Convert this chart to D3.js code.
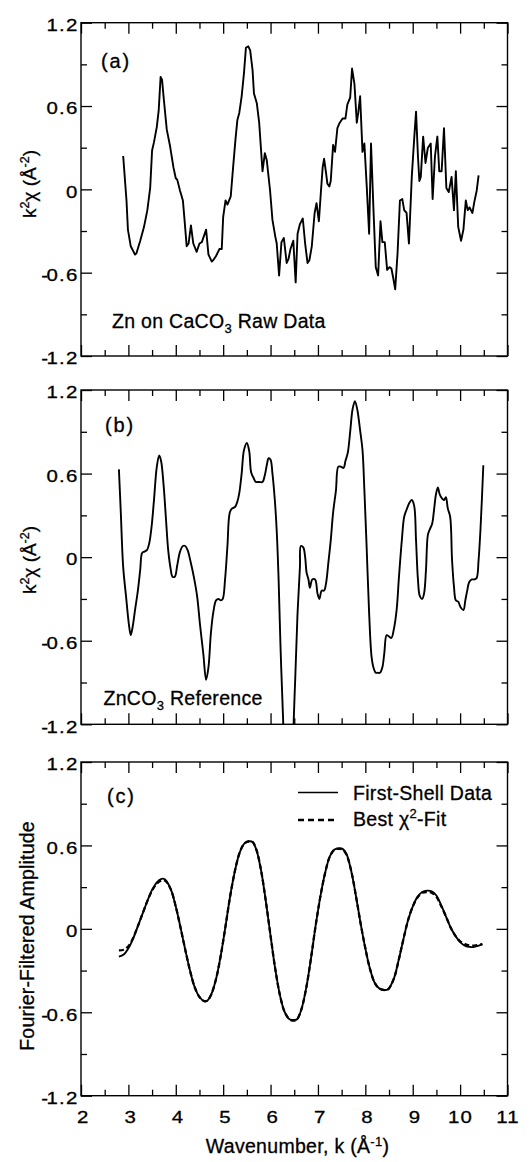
<!DOCTYPE html>
<html>
<head>
<meta charset="utf-8">
<script src="https://cdn.jsdelivr.net/npm/d3@7"></script>
<style>
body { margin: 0; background: #fff; }
text { font-family: "Liberation Sans", Arial, Helvetica, sans-serif; fill: #000; stroke: #000; stroke-width: 0.3px; }
</style>
</head>
<body>
<svg id="chart" width="529" height="1162"></svg>
<script>
// tick values
const xMajor = [2, 3, 4, 5, 6, 7, 8, 9, 10, 11]
const xMinor = [2.5, 3.5, 4.5, 5.5, 6.5, 7.5, 8.5, 9.5, 10.5]
const yMajor = [-1.2, -0.6, 0, 0.6, 1.2]
const yMinor = [-0.9, -0.3, 0.3, 0.9]

// (a) Zn on CaCO3 raw data, [k, k^2 chi]
const rawData = [[2.89,0.24],[2.96,-0.08],[2.99,-0.29],[3.05,-0.41],[3.14,-0.47],[3.17,-0.46],[3.25,-0.37],[3.33,-0.27],[3.40,-0.15],[3.46,0.01],[3.50,0.28],[3.54,0.34],[3.60,0.45],[3.64,0.57],[3.68,0.81],[3.71,0.79],[3.75,0.64],[3.81,0.43],[3.88,0.31],[3.95,0.16],[4.00,0.08],[4.03,0.07],[4.09,-0.01],[4.15,-0.08],[4.18,-0.20],[4.23,-0.41],[4.27,-0.39],[4.32,-0.26],[4.37,-0.39],[4.44,-0.45],[4.50,-0.39],[4.55,-0.38],[4.64,-0.29],[4.69,-0.47],[4.76,-0.52],[4.79,-0.51],[4.85,-0.48],[4.92,-0.43],[4.97,-0.43],[5.00,-0.20],[5.05,-0.08],[5.09,-0.11],[5.16,-0.05],[5.21,0.16],[5.26,0.36],[5.30,0.50],[5.34,0.55],[5.39,0.67],[5.44,0.84],[5.48,1.02],[5.53,1.03],[5.57,1.00],[5.62,0.86],[5.65,0.69],[5.71,0.62],[5.76,0.48],[5.79,0.33],[5.83,0.13],[5.88,0.26],[5.92,0.21],[5.99,-0.01],[6.04,-0.22],[6.10,-0.34],[6.13,-0.39],[6.18,-0.62],[6.23,-0.38],[6.28,-0.35],[6.34,-0.53],[6.38,-0.50],[6.42,-0.43],[6.48,-0.37],[6.53,-0.67],[6.57,-0.32],[6.62,-0.25],[6.68,-0.21],[6.73,-0.39],[6.78,-0.53],[6.82,-0.51],[6.87,-0.41],[6.93,-0.17],[6.97,-0.10],[7.02,-0.23],[7.06,-0.03],[7.10,0.16],[7.13,0.22],[7.17,0.12],[7.20,0.04],[7.24,0.02],[7.27,0.06],[7.32,0.32],[7.36,0.27],[7.41,0.44],[7.46,0.48],[7.52,0.51],[7.58,0.51],[7.62,0.61],[7.68,0.66],[7.72,0.87],[7.77,0.76],[7.82,0.48],[7.85,0.55],[7.89,0.67],[7.94,0.27],[7.98,0.33],[8.03,0.02],[8.08,-0.32],[8.12,0.33],[8.17,-0.13],[8.22,-0.56],[8.27,-0.62],[8.32,-0.23],[8.36,-0.38],[8.41,-0.38],[8.46,-0.58],[8.51,-0.56],[8.55,-0.57],[8.59,-0.64],[8.63,-0.72],[8.68,-0.46],[8.73,-0.08],[8.78,-0.07],[8.82,-0.15],[8.87,-0.17],[8.92,-0.39],[8.98,0.09],[9.03,0.36],[9.07,0.56],[9.11,0.24],[9.14,0.06],[9.17,0.09],[9.22,0.38],[9.27,0.19],[9.32,0.30],[9.38,0.33],[9.42,-0.07],[9.47,0.24],[9.52,0.38],[9.56,0.13],[9.61,0.13],[9.66,0.44],[9.71,0.01],[9.76,-0.02],[9.82,0.09],[9.87,-0.15],[9.91,0.13],[9.96,-0.27],[10.02,-0.37],[10.07,-0.29],[10.12,-0.08],[10.16,-0.15],[10.20,-0.13],[10.26,-0.17],[10.30,-0.09],[10.35,-0.01],[10.39,0.10]]

// (b) ZnCO3 reference
const refData = [[2.80,0.63],[2.84,0.32],[2.89,-0.07],[2.95,-0.28],[3.01,-0.48],[3.05,-0.56],[3.09,-0.50],[3.14,-0.38],[3.20,-0.24],[3.25,-0.09],[3.29,0.03],[3.34,0.04],[3.39,0.05],[3.44,0.10],[3.49,0.22],[3.54,0.41],[3.60,0.65],[3.65,0.73],[3.69,0.69],[3.74,0.53],[3.79,0.29],[3.84,0.05],[3.89,-0.08],[3.93,-0.14],[3.98,-0.14],[4.03,-0.06],[4.09,0.04],[4.15,0.08],[4.20,0.08],[4.25,0.05],[4.31,-0.03],[4.38,-0.14],[4.45,-0.28],[4.51,-0.48],[4.58,-0.69],[4.64,-0.88],[4.69,-0.79],[4.74,-0.55],[4.79,-0.40],[4.85,-0.31],[4.90,-0.30],[4.95,-0.31],[4.99,-0.30],[5.04,-0.16],[5.09,0.08],[5.14,0.32],[5.19,0.35],[5.25,0.36],[5.30,0.40],[5.34,0.46],[5.39,0.60],[5.44,0.77],[5.50,0.82],[5.55,0.76],[5.59,0.61],[5.64,0.57],[5.69,0.54],[5.76,0.54],[5.83,0.54],[5.88,0.59],[5.92,0.66],[5.96,0.71],[6.00,0.70],[6.04,0.60],[6.09,0.41],[6.13,0.19],[6.17,-0.16],[6.21,-0.64],[6.26,-1.12],[6.37,-2.00],[6.52,-0.88],[6.57,-0.40],[6.62,-0.07],[6.64,0.08],[6.69,0.07],[6.73,0.00],[6.76,-0.11],[6.80,-0.16],[6.83,-0.22],[6.88,-0.16],[6.94,-0.16],[6.99,-0.26],[7.03,-0.30],[7.08,-0.24],[7.13,-0.24],[7.17,-0.19],[7.22,-0.04],[7.27,0.12],[7.32,0.32],[7.38,0.48],[7.43,0.65],[7.48,0.65],[7.54,0.64],[7.58,0.69],[7.63,0.75],[7.68,0.90],[7.73,1.06],[7.78,1.12],[7.83,1.06],[7.89,0.91],[7.94,0.77],[7.98,0.48],[8.03,0.05],[8.08,-0.40],[8.13,-0.71],[8.17,-0.79],[8.22,-0.83],[8.26,-0.83],[8.31,-0.83],[8.36,-0.79],[8.40,-0.69],[8.45,-0.56],[8.50,-0.57],[8.55,-0.58],[8.60,-0.52],[8.66,-0.38],[8.71,-0.14],[8.77,0.12],[8.82,0.29],[8.87,0.34],[8.93,0.39],[8.98,0.41],[9.03,0.37],[9.07,0.12],[9.11,-0.16],[9.15,-0.28],[9.20,-0.30],[9.24,-0.26],[9.28,-0.09],[9.32,0.16],[9.36,0.20],[9.41,0.24],[9.45,0.34],[9.49,0.45],[9.53,0.50],[9.57,0.45],[9.62,0.42],[9.66,0.41],[9.70,0.43],[9.74,0.35],[9.79,0.29],[9.83,-0.02],[9.87,-0.21],[9.91,-0.31],[9.96,-0.32],[10.01,-0.36],[10.07,-0.38],[10.11,-0.31],[10.15,-0.24],[10.19,-0.18],[10.25,-0.16],[10.31,-0.16],[10.35,-0.15],[10.39,-0.02],[10.43,0.20],[10.49,0.66]]

// (c) Fourier-filtered first shell and fit
const kFilt = [2.80,2.90,3.00,3.10,3.20,3.30,3.40,3.50,3.60,3.70,3.75,3.80,3.90,4.00,4.10,4.20,4.30,4.40,4.50,4.60,4.67,4.75,4.85,4.95,5.05,5.15,5.25,5.35,5.45,5.55,5.62,5.70,5.80,5.90,6.00,6.10,6.20,6.30,6.40,6.50,6.56,6.65,6.75,6.85,6.95,7.05,7.15,7.25,7.35,7.45,7.52,7.60,7.70,7.80,7.90,8.00,8.10,8.20,8.30,8.40,8.48,8.60,8.70,8.80,8.90,9.00,9.10,9.20,9.30,9.40,9.50,9.60,9.70,9.80,9.90,10.00,10.10,10.20,10.30,10.40,10.47]
const shellAmp = [-0.20,-0.185,-0.14,-0.07,0.02,0.11,0.20,0.28,0.335,0.36,0.36,0.345,0.28,0.16,0.01,-0.15,-0.30,-0.42,-0.49,-0.52,-0.515,-0.47,-0.36,-0.19,0.02,0.24,0.42,0.55,0.615,0.63,0.625,0.57,0.42,0.20,-0.05,-0.29,-0.48,-0.60,-0.65,-0.655,-0.65,-0.58,-0.43,-0.22,0.02,0.23,0.40,0.52,0.57,0.58,0.575,0.54,0.42,0.24,0.04,-0.14,-0.29,-0.39,-0.43,-0.44,-0.435,-0.36,-0.23,-0.08,0.06,0.16,0.23,0.265,0.275,0.27,0.24,0.17,0.09,0.01,-0.05,-0.095,-0.12,-0.13,-0.13,-0.12,-0.11]
const fitAmp = [-0.155,-0.15,-0.125,-0.065,0.02,0.11,0.20,0.275,0.325,0.35,0.35,0.34,0.28,0.16,0.01,-0.15,-0.30,-0.42,-0.49,-0.52,-0.515,-0.47,-0.36,-0.19,0.02,0.24,0.42,0.55,0.615,0.63,0.625,0.57,0.42,0.20,-0.05,-0.29,-0.48,-0.60,-0.65,-0.66,-0.65,-0.58,-0.43,-0.22,0.02,0.23,0.40,0.52,0.57,0.575,0.57,0.535,0.42,0.24,0.04,-0.14,-0.29,-0.39,-0.43,-0.44,-0.435,-0.36,-0.23,-0.08,0.06,0.16,0.225,0.26,0.265,0.26,0.23,0.165,0.09,0.01,-0.05,-0.09,-0.11,-0.12,-0.12,-0.115,-0.11]

const svg = d3.select('#chart')
svg.append('rect').attr('width', 529).attr('height', 1162).attr('fill', '#fff')

const x = d3.scaleLinear().domain([2, 11]).range([81, 507.5])
const x0 = x.range()[0], x1 = x.range()[1]

const panels = [
    { top: 22.7, bottom: 356, tag: '(a)', tagX: 101, tagY: 68 },
    { top: 390, bottom: 724.3, tag: '(b)', tagX: 105, tagY: 432 },
    { top: 762, bottom: 1095.7, tag: '(c)', tagX: 107, tagY: 803 }
]

panels.forEach((p, i) => {
    p.y = d3.scaleLinear().domain([-1.2, 1.2]).range([p.bottom, p.top])
    const g = svg.append('g')
    p.g = g

    const clipId = 'clip' + i
    g.append('clipPath').attr('id', clipId)
        .append('rect').attr('x', x0).attr('y', p.top)
        .attr('width', x1 - x0).attr('height', p.bottom - p.top)
    p.clip = `url(#${clipId})`

    // ticks on all four sides, pointing inward
    const axes = [
        [d3.axisLeft, `translate(${x0},0)`, p.y, yMajor, yMinor],
        [d3.axisRight, `translate(${x1},0)`, p.y, yMajor, yMinor],
        [d3.axisTop, `translate(0,${p.top})`, x, xMajor, xMinor],
        [d3.axisBottom, `translate(0,${p.bottom})`, x, xMajor, xMinor]
    ]
    axes.forEach(([ax, tr, sc, major, minor]) => {
        [[major, 11], [minor, 6]].forEach(([vals, len]) => {
            g.append('g').attr('transform', tr)
                .call(ax(sc).tickValues(vals).tickSize(-len).tickFormat(''))
                .call(a => a.select('.domain').remove())
                .selectAll('line').attr('stroke', '#000').attr('stroke-width', 1.3)
        })
    })

    g.append('rect')
        .attr('x', x0).attr('y', p.top)
        .attr('width', x1 - x0).attr('height', p.bottom - p.top)
        .attr('fill', 'none').attr('stroke', '#000').attr('stroke-width', 1.4)

    // y tick labels: hyphen set tight, digits a little spread
    const lab = g.selectAll('.ylab').data(yMajor).join('text')
        .attr('class', 'ylab')
        .attr('transform', d => `translate(${x0 - 2.5},${p.y(d) + 8.3}) scale(1.2,1)`)
        .attr('text-anchor', 'end')
        .style('font-size', '17px')
    lab.filter(d => d < 0).append('tspan').style('letter-spacing', '-1.2px').text('-')
    lab.append('tspan').style('letter-spacing', '1px')
        .text(d => d === 0 ? '0' : Math.abs(d).toFixed(1))

    g.append('text')
        .attr('x', p.tagX).attr('y', p.tagY)
        .style('font-size', '20px').style('letter-spacing', '1.8px')
        .text(p.tag)
})

// x tick labels on bottom panel only
const pc = panels[2]
pc.g.selectAll('.xlab').data(xMajor).join('text')
    .attr('class', 'xlab')
    .attr('transform', d => `translate(${x(d) + (d >= 10 ? 0.5 : 2.3)},${pc.bottom + 27.6}) scale(1.2,1)`)
    .attr('text-anchor', 'middle')
    .style('font-size', '17px')
    .style('letter-spacing', '1px')
    .text(d => d)

const line = d3.line().x(d => x(d[0]))

// (a)
const pa = panels[0]
pa.g.append('path').datum(rawData)
    .attr('clip-path', pa.clip)
    .attr('d', line.y(d => pa.y(d[1])).curve(d3.curveLinear))
    .attr('fill', 'none').attr('stroke', '#000').attr('stroke-width', 1.9)
    .attr('stroke-linejoin', 'round')

// (b)
const pb = panels[1]
pb.g.append('path').datum(refData)
    .attr('clip-path', pb.clip)
    .attr('d', line.y(d => pb.y(d[1])).curve(d3.curveCatmullRom.alpha(0.5)))
    .attr('fill', 'none').attr('stroke', '#000').attr('stroke-width', 1.9)
    .attr('stroke-linejoin', 'round')

// (c)
const shell = kFilt.map((k, i) => [k, shellAmp[i]])
const fit = kFilt.map((k, i) => [k, fitAmp[i]])
const lineC = d3.line().x(d => x(d[0])).y(d => pc.y(d[1])).curve(d3.curveCatmullRom.alpha(0.5))
pc.g.append('path').datum(shell)
    .attr('d', lineC)
    .attr('fill', 'none').attr('stroke', '#000').attr('stroke-width', 1.9)
pc.g.append('path').datum(fit)
    .attr('d', lineC)
    .attr('fill', 'none').attr('stroke', '#000').attr('stroke-width', 2.3)
    .attr('stroke-dasharray', '5,3')

// legend
pc.g.append('line').attr('x1', 298).attr('x2', 338).attr('y1', 792.5).attr('y2', 792.5)
    .attr('stroke', '#000').attr('stroke-width', 1.5)
pc.g.append('line').attr('x1', 298).attr('x2', 338).attr('y1', 820).attr('y2', 820)
    .attr('stroke', '#000').attr('stroke-width', 2.3).attr('stroke-dasharray', '6,4')
pc.g.append('text').attr('x', 353).attr('y', 800)
    .style('font-size', '19.5px').style('letter-spacing', '0.3px')
    .text('First-Shell Data')
const fitLab = pc.g.append('text').attr('x', 353).attr('y', 826)
    .style('font-size', '19.5px').style('letter-spacing', '0.3px')
fitLab.append('tspan').text('Best χ')
fitLab.append('tspan').attr('dy', -8).style('font-size', '13px').text('2')
fitLab.append('tspan').attr('dy', 8).text('-Fit')

// notes
function sub(sel, a, s, b) {
    sel.append('tspan').text(a)
    sel.append('tspan').attr('dy', 5).style('font-size', '13px').text(s)
    sel.append('tspan').attr('dy', -5).text(b)
}
sub(pa.g.append('text').attr('x', 112).attr('y', 328.3)
    .style('font-size', '19.5px').style('letter-spacing', '0.3px'), 'Zn on CaCO', '3', ' Raw Data')
sub(pb.g.append('text').attr('x', 103.5).attr('y', 705)
    .style('font-size', '19.5px').style('letter-spacing', '0.3px'), 'ZnCO', '3', ' Reference')

// axis titles
function chiTitle(cy) {
    const t = svg.append('text')
        .attr('transform', `translate(36,${cy}) rotate(-90)`)
        .attr('text-anchor', 'middle')
        .style('font-size', '19px')
    t.append('tspan').text('k')
    t.append('tspan').attr('dy', -7).style('font-size', '12.5px').text('2')
    t.append('tspan').attr('dy', 7).text('χ (Å')
    t.append('tspan').attr('dy', -7).style('font-size', '12.5px').text('-2')
    t.append('tspan').attr('dy', 7).text(')')
}
chiTitle(184)
chiTitle(560)

svg.append('text')
    .attr('transform', 'translate(34,936) rotate(-90)')
    .attr('text-anchor', 'middle')
    .style('font-size', '19.5px').style('letter-spacing', '0.2px')
    .text('Fourier-Filtered Amplitude')

const xt = svg.append('text')
    .attr('x', 297.5).attr('y', 1153.3)
    .attr('text-anchor', 'middle')
    .style('font-size', '19.5px').style('letter-spacing', '0.3px')
xt.append('tspan').text('Wavenumber, k (Å')
xt.append('tspan').attr('dy', -7).style('font-size', '13px').text('-1')
xt.append('tspan').attr('dy', 7).text(')')
</script>
</body>
</html>
